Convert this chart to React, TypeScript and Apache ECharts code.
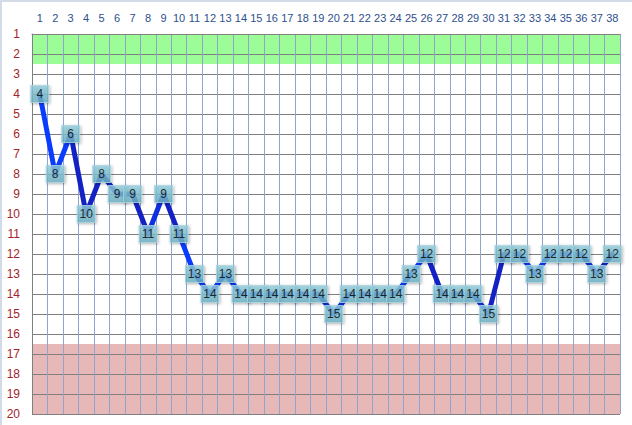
import { useEffect, useRef } from "react";
import * as echarts from "echarts";

const categories = Array.from({ length: 38 }, (_, i) => String(i + 1));
const ranks = [4, 8, 6, 10, 8, 9, 9, 11, 9, 11, 13, 14, 13, 14, 14, 14, 14, 14, 14, 15, 14, 14, 14, 14, 13, 12, 14, 14, 14, 15, 12, 12, 13, 12, 12, 12, 13, 12];
const yTicks = { min: 1, max: 20, interval: 1 };
const greenBand = [1, 2.5];
const redBand = [16.5, 20];

// shading of each segment (point i -> i+1), mimicking the 3D line look
const BRIGHT = "#0a3cff";
const MID = "#0f30e0";
const DARK = "#1422c4";
const segColors = [
  BRIGHT, BRIGHT, DARK, DARK, DARK, DARK, DARK, MID, DARK, BRIGHT,
  BRIGHT, BRIGHT, BRIGHT, BRIGHT, BRIGHT, BRIGHT, BRIGHT, BRIGHT, MID, MID,
  MID, MID, MID, BRIGHT, BRIGHT, DARK, DARK, DARK, MID, DARK,
  DARK, BRIGHT, BRIGHT, BRIGHT, BRIGHT, MID, DARK,
];

export default function App() {
  const ref = useRef<HTMLDivElement>(null);

  useEffect(() => {
    if (!ref.current) return;
    const chart = echarts.init(ref.current, undefined, { renderer: "svg" });
    const font = "Liberation Sans";

    chart.setOption({
      animation: false,
      backgroundColor: "#ffffff",
      grid: { left: 32, right: 12, top: 34, bottom: 11 },
      graphic: [
        { type: "rect", shape: { x: 1, y: 1, width: 700, height: 500 }, style: { fill: "none", stroke: "#d3dae8", lineWidth: 2 }, silent: true },
      ],
      xAxis: {
        type: "category",
        data: categories,
        position: "top",
        boundaryGap: true,
        z: 1,
        axisLine: { show: true, lineStyle: { color: "#808080", width: 1 } },
        axisTick: { show: false },
        axisLabel: { color: "#2d4f8c", fontSize: 11, fontFamily: font, margin: 11, interval: 0 },
        splitLine: { show: true, interval: 0, lineStyle: { color: "#8fa5d0", width: 1 } },
      },
      yAxis: {
        type: "value",
        inverse: true,
        min: yTicks.min,
        max: yTicks.max,
        interval: yTicks.interval,
        z: 1,
        axisLine: { show: true, lineStyle: { color: "#808080", width: 1 } },
        axisTick: { show: false },
        axisLabel: { color: "#a3232a", fontSize: 12, fontFamily: font, margin: 12 },
        splitLine: { show: true, lineStyle: { color: "#808080", width: 1 } },
      },
      visualMap: {
        show: false,
        type: "piecewise",
        dimension: 0,
        seriesIndex: 1,
        pieces: segColors.map((c, i) => ({ gte: i, lt: i + 1, color: c })),
        outOfRange: { color: DARK },
      },
      series: [
        {
          type: "line",
          data: [],
          z: 0,
          silent: true,
          markArea: {
            silent: true,
            z: 0,
            data: [
              [{ yAxis: greenBand[0], itemStyle: { color: "#9cfd98" } }, { yAxis: greenBand[1] }],
              [{ yAxis: redBand[0], itemStyle: { color: "#e6b8b7" } }, { yAxis: redBand[1] }],
            ],
          },
        },
        {
          type: "line",
          data: ranks,
          z: 2,
          showSymbol: false,
          lineStyle: { width: 5, cap: "round", join: "round" },
        },
        {
          type: "scatter",
          data: ranks,
          z: 3,
          symbol: "rect",
          symbolSize: [18, 17],
          itemStyle: {
            color: new echarts.graphic.LinearGradient(0, 0, 0, 1, [
              { offset: 0, color: "#92cddc" },
              { offset: 1, color: "#6aafc4" },
            ]),
            borderColor: "#a9d6e2",
            borderWidth: 1,
            shadowBlur: 3,
            shadowOffsetX: 1,
            shadowOffsetY: 1,
            shadowColor: "rgba(0,0,0,0.35)",
          },
          label: {
            show: true,
            position: "inside",
            color: "#000000",
            fontSize: 12,
            fontFamily: font,
            formatter: (p: any) => String(p.value),
          },
        },
      ],
    });

    return () => chart.dispose();
  }, []);

  return <div ref={ref} style={{ position: "fixed", left: 0, top: 0, width: 632, height: 425 }} />;
}
